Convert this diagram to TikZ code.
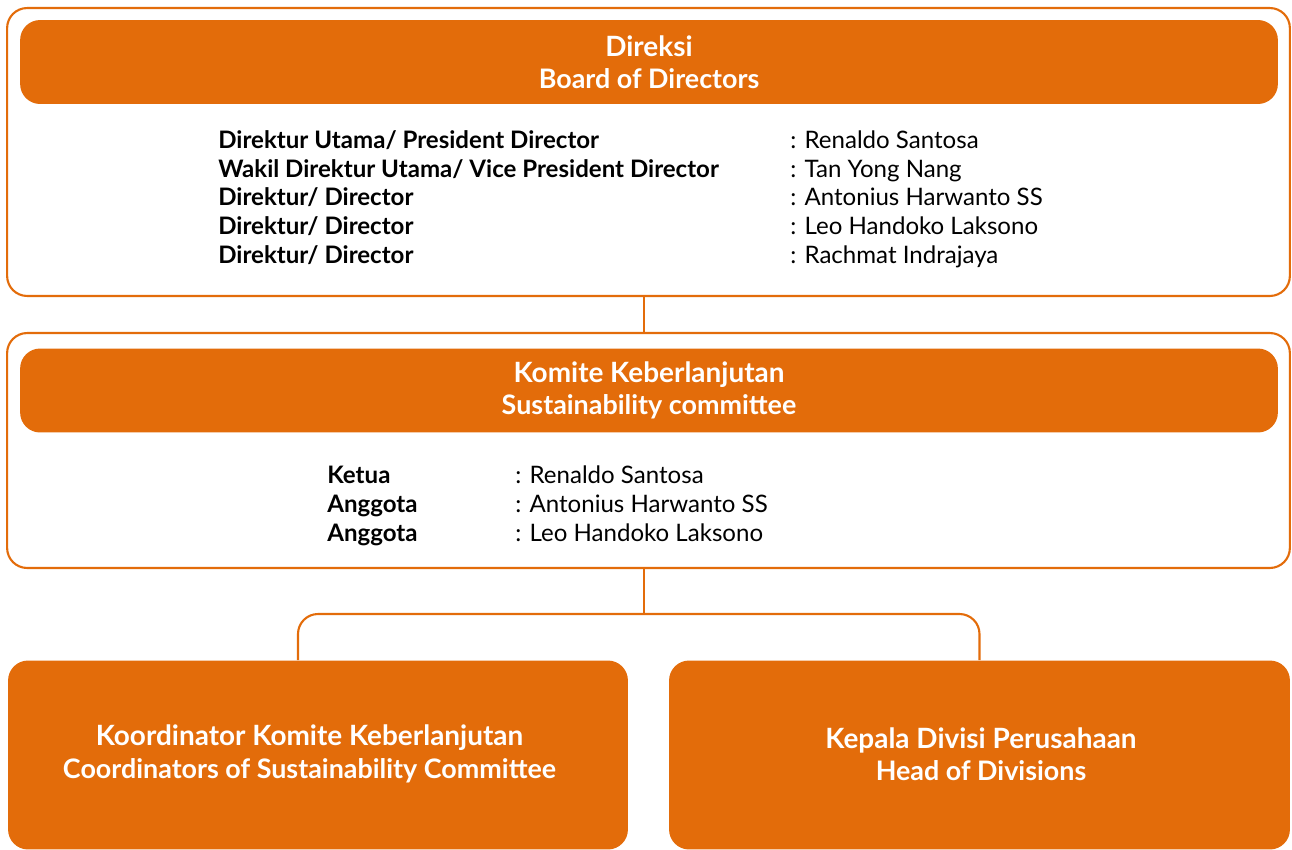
\documentclass[tikz,border=0pt]{standalone}
\usepackage{fontspec}
\setmainfont{Lato}
\usepackage{tikz}

\definecolor{sorange}{HTML}{E36C0A}
\newcommand\subline[1]{{\fontsize{15.3}{18.3}\selectfont #1}}

\begin{document}
\begin{tikzpicture}[x=0.02cm,y=-0.02cm,
    frame/.style={draw=sorange,line width=1.2pt,rounded corners=0.4cm,fill=white},
    head/.style={fill=sorange,rounded corners=0.4cm,text=white,align=center,
      font=\fontsize{15.9}{18.3}\selectfont\bfseries},
    unit/.style={fill=sorange,rounded corners=0.4cm},
    unittext/.style={text=white,align=center,font=\fontsize{15.9}{18.5}\selectfont\bfseries},
    role/.style={anchor=base west,inner sep=0pt,font=\fontsize{13.7}{16}\selectfont\bfseries},
    member/.style={anchor=base west,inner sep=0pt,font=\fontsize{13.7}{16}\selectfont},
    link/.style={draw=sorange,line width=1.2pt}]

\useasboundingbox (0,0) rectangle (1292,849);

% direksi
\node[frame,minimum width=25.66cm,minimum height=5.76cm] (board) at (648.5,152) {};
\node[head,minimum width=25.16cm,minimum height=1.68cm] (boardhead) at (649,62) {Direksi\\\subline{Board of Directors}};
\path (218,148) node[role] (r1) {Direktur Utama/ President Director};
\path (218,177) node[role] (r2) {Wakil Direktur Utama/ Vice President Director};
\path (218,205.5) node[role] (r3) {Direktur/ Director};
\path (218,234.5) node[role] (r4) {Direktur/ Director};
\path (218,263.5) node[role] (r5) {Direktur/ Director};
\path (790,148) node[member] (m1) {: Renaldo Santosa};
\path (790,177) node[member] (m2) {: Tan Yong Nang};
\path (790,205.5) node[member] (m3) {: Antonius Harwanto SS};
\path (790,234.5) node[member] (m4) {: Leo Handoko Laksono};
\path (790,263.5) node[member] (m5) {: Rachmat Indrajaya};

% komite keberlanjutan
\node[frame,minimum width=25.66cm,minimum height=4.70cm] (committee) at (648.5,450.5) {};
\node[head,minimum width=25.16cm,minimum height=1.68cm] (committeehead) at (649,390.5) {Komite Keberlanjutan\\\subline{Sustainability committee}};
\path (327,483.5) node[role] (k1) {Ketua};
\path (327,512.5) node[role] (k2) {Anggota};
\path (327,541.5) node[role] (k3) {Anggota};
\path (515,483.5) node[member] (n1) {: Renaldo Santosa};
\path (515,512.5) node[member] (n2) {: Antonius Harwanto SS};
\path (515,541.5) node[member] (n3) {: Leo Handoko Laksono};

% units
\node[unit,minimum width=12.4cm,minimum height=3.78cm] (coordinators) at (318,755) {};
\node[unit,minimum width=12.42cm,minimum height=3.78cm] (divisions) at (979.5,755) {};
\node[unittext] (coordinatorstext) at (309.5,754) {Koordinator Komite Keberlanjutan\\\subline{Coordinators of Sustainability Committee}};
\node[unittext] (divisionstext) at (981,754) {Kepala Divisi Perusahaan\\\subline{Head of Divisions}};

% connectors
\coordinate (axis) at (644,0);
\coordinate (leftdrop) at (298,0);
\coordinate (split) at (644,614);
\draw[link] (board.south -| axis) -- (committee.north -| axis);
\draw[link] (committee.south -| axis) -- (split);
\draw[link,rounded corners=0.4cm] (coordinators.north -| leftdrop) |- (split) -| (divisions.north);

\end{tikzpicture}
\end{document}
